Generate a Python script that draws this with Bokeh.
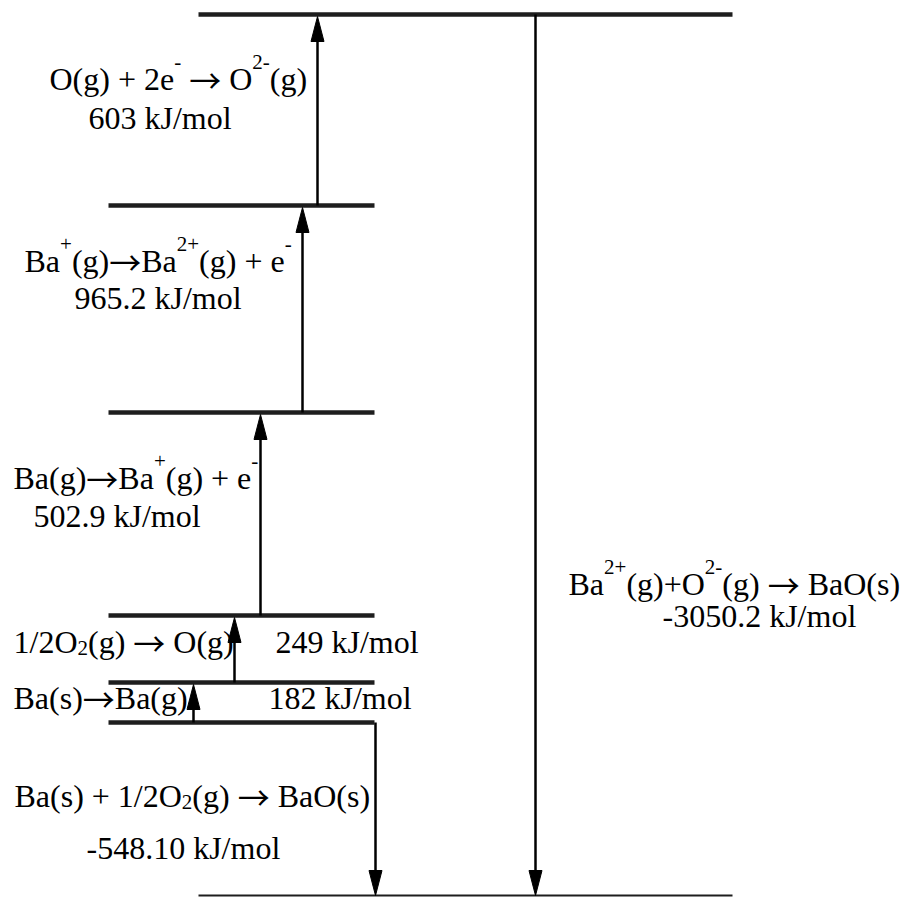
from bokeh.plotting import figure
from bokeh.models import ColumnDataSource, Range1d
from bokeh.embed import file_html
from bokeh.resources import INLINE

# ---------------- data: Born-Haber cycle for BaO ----------------
states = ["BaO(s)", "Ba(s) + 1/2O2(g)", "Ba(g) + 1/2O2(g)", "Ba(g) + O(g)",
          "Ba+(g) + O(g) + e-", "Ba2+(g) + O(g) + 2e-", "Ba2+(g) + O2-(g)"]
# schematic (not to scale) height of each energy level in the diagram
level_pos = [0, 173, 213, 280, 483, 690, 881]

step_dH = [-548.10, 182, 249, 502.9, 965.2, 603, -3050.2]   # kJ/mol
step_decimals = [2, 0, 0, 1, 1, 0, 1]
step_from = [1, 1, 2, 3, 4, 5, 6]
step_to = [0, 2, 3, 4, 5, 6, 0]
# equation text: (text, kind) with kind n=normal, sup=superscript, sub=subscript
step_eq = [
    [("Ba(s) + 1/2O", "n"), ("2", "sub"), ("(g) \u2192 BaO(s)", "n")],
    [("Ba(s)\u2192Ba(g)", "n")],
    [("1/2O", "n"), ("2", "sub"), ("(g) \u2192 O(g)", "n")],
    [("Ba(g)\u2192Ba", "n"), ("+", "sup"), ("(g) + e", "n"), ("-", "sup")],
    [("Ba", "n"), ("+", "sup"), ("(g)\u2192Ba", "n"), ("2+", "sup"), ("(g) + e", "n"), ("-", "sup")],
    [("O(g) + 2e", "n"), ("-", "sup"), (" \u2192 O", "n"), ("2-", "sup"), ("(g)", "n")],
    [("Ba", "n"), ("2+", "sup"), ("(g)+O", "n"), ("2-", "sup"), ("(g) \u2192 BaO(s)", "n")],
]

# ---------------- layout (pixels) ----------------
NARROW = (108, 374)
WIDE = (198, 732)
arrow_x = [375, 193, 234, 260, 302, 317, 535]
# label layout: anchor level, eq x, eq dy(px down), value x, value dy
label_layout = [
    (1, 14, 83, 86, 135),
    (2, 13, 25, 268, 25),
    (3, 13, 36, 275, 36),
    (4, 13, 75, 33, 113),
    (5, 24, 65, 74, 102),
    (6, 49, 74, 88, 113),
    (6, 568, 579, 662, 611),
]
TEXT_DY = -10
FS, FS_SMALL, FS_ARROW = 32, 21, 32
SUP_RAISE, SUB_DROP = 17, 6
HEAD_L, HEAD_W = 25, 13
SERIF = "Liberation Serif"
ARROW_FONT = "Noto Sans CJK SC"

W_TNR = {' ': 250, '(': 333, ')': 333, '+': 564, '-': 333, '.': 250, '/': 278,
         'B': 667, 'O': 722, 'J': 389, 'a': 444, 'e': 444, 'g': 500, 'k': 500,
         'l': 278, 'm': 778, 'o': 500, 's': 389}
for d in "0123456789":
    W_TNR[d] = 500
ARROW_W = 1000


def tw(s, px):
    return sum(W_TNR.get(c, 500) for c in s) * px / 1000.0


p = figure(width=905, height=897, x_range=Range1d(0, 905), y_range=Range1d(-2, 895),
           output_backend="svg", toolbar_location=None, min_border=0,
           x_axis_location=None, y_axis_location=None)
p.grid.visible = False
p.outline_line_color = None
p.background_fill_color = "white"
p.border_fill_color = "white"

# energy levels
n = len(level_pos)
lv = dict(x0=[], x1=[], y=[], w=[])
for i, h in enumerate(level_pos):
    ext = WIDE if i in (0, n - 1) else NARROW
    lv["x0"].append(ext[0]); lv["x1"].append(ext[1]); lv["y"].append(h)
    lv["w"].append(2 if i == 0 else 4.5)
p.segment(x0="x0", y0="y", x1="x1", y1="y", line_width="w", line_color="#1e1e1e",
          line_cap="butt", source=ColumnDataSource(lv))

# arrows
sh = dict(x=[], y0=[], y1=[])
hd = dict(xs=[], ys=[])
for k in range(len(step_dH)):
    x = arrow_x[k]
    y_start = level_pos[step_from[k]]
    if step_dH[k] > 0:
        tip = level_pos[step_to[k]] - 2
        base = tip - HEAD_L
    else:
        tip = level_pos[step_to[k]]
        base = tip + HEAD_L
    sh["x"].append(x); sh["y0"].append(y_start); sh["y1"].append(base)
    hd["xs"].append([x - HEAD_W / 2, x + HEAD_W / 2, x])
    hd["ys"].append([base, base, tip])
p.segment(x0="x", y0="y0", x1="x", y1="y1", line_width=2.5, line_color="black",
          source=ColumnDataSource(sh))
p.patches(xs="xs", ys="ys", fill_color="black", line_color="black", line_width=1,
          source=ColumnDataSource(hd))

# labels
tx = dict(x=[], y=[], xo=[], yo=[], text=[], fs=[], font=[])


def add(x, y, xo, yo, text, px, font):
    tx["x"].append(x); tx["y"].append(y); tx["xo"].append(xo); tx["yo"].append(yo + TEXT_DY)
    tx["text"].append(text); tx["fs"].append(f"{px}px"); tx["font"].append(font)


def add_plain(x, y, cur, yo, s, px):
    # leading/trailing spaces would be collapsed in SVG: advance over them instead
    lead = len(s) - len(s.lstrip(" "))
    cur += tw(s[:lead], px)
    core = s.strip(" ")
    if core:
        add(x, y, cur, yo, core, px, SERIF)
    return cur + tw(s[lead:], px)


for k in range(len(step_dH)):
    lvl, ex, edy, vx, vdy = label_layout[k]
    y = level_pos[lvl]
    cur = 0.0
    for s, kind in step_eq[k]:
        if kind == "n":
            parts = s.split("\u2192")
            for j, part in enumerate(parts):
                if j > 0:
                    add(ex, y, cur, edy, "\u2192", FS_ARROW, ARROW_FONT)
                    cur += ARROW_W * FS_ARROW / 1000.0
                cur = add_plain(ex, y, cur, edy, part, FS)
        else:
            dy = edy + (-SUP_RAISE if kind == "sup" else SUB_DROP)
            cur = add_plain(ex, y, cur, dy, s, FS_SMALL)
    vt = f"{step_dH[k]:.{step_decimals[k]}f} kJ/mol"
    add(vx, y, 0, vdy, vt, FS, SERIF)

p.text(x="x", y="y", x_offset="xo", y_offset="yo", text="text", text_font_size="fs",
       text_font="font", text_color="black",
       text_align="left", text_baseline="alphabetic", source=ColumnDataSource(tx))

open("out.html", "w").write(file_html(p, INLINE))
